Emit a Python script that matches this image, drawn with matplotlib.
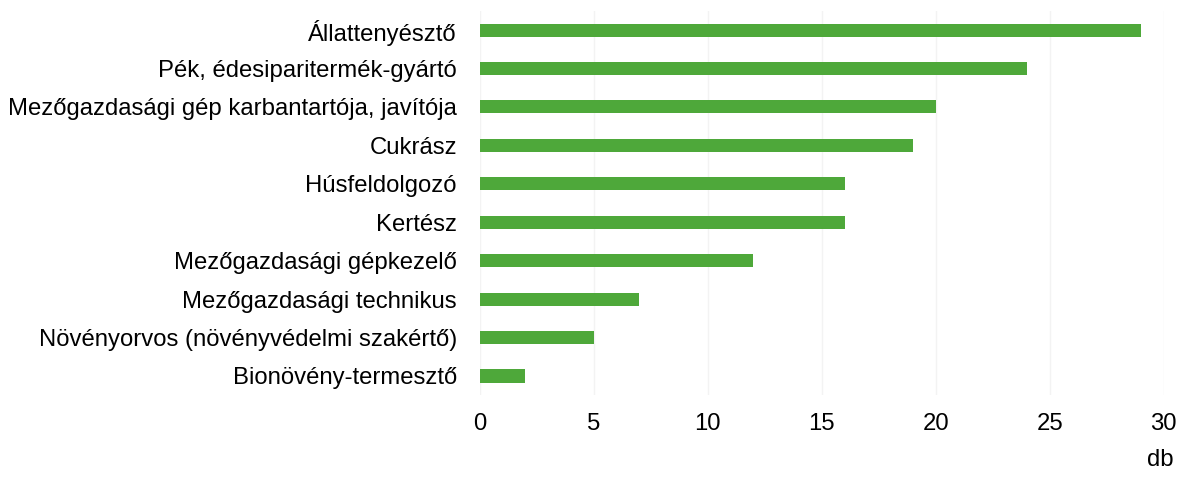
import matplotlib
matplotlib.use('Agg')
import matplotlib.pyplot as plt

plt.rcParams['font.family'] = ['Liberation Sans', 'DejaVu Sans']

# szakmák és darabszám
kategoriak = ['Állattenyésztő', 'Pék, édesiparitermék-gyártó',
              'Mezőgazdasági gép karbantartója, javítója', 'Cukrász',
              'Húsfeldolgozó', 'Kertész', 'Mezőgazdasági gépkezelő',
              'Mezőgazdasági technikus', 'Növényorvos (növényvédelmi szakértő)',
              'Bionövény-termesztő']
ertekek = [29, 24, 20, 19, 16, 16, 12, 7, 5, 2]
xticks = [0, 5, 10, 15, 20, 25, 30]

fs = 17.2

fig = plt.figure(figsize=(11.79, 4.94), dpi=100)
ax = fig.add_axes([0.407, 0.2, 0.58, 0.778])

y = list(range(len(kategoriak)))
ax.barh(y, ertekek, height=0.34, color='#4ea83a', zorder=2)
ax.set_ylim(len(kategoriak) - 0.5, -0.5)
ax.set_xlim(0, 30)
ax.set_yticks(y)
ax.set_yticklabels(kategoriak, fontsize=fs)
ax.set_xticks(xticks)
ax.set_xticklabels([str(t) for t in xticks], fontsize=fs)
ax.tick_params(length=0, pad=13, axis='x')
ax.tick_params(length=0, pad=16.5, axis='y')
for s in ax.spines.values():
    s.set_visible(False)
ax.grid(axis='x', color='#f3f3f3', linewidth=1, zorder=0)

fig.text(0.984, 0.068, 'db', fontsize=fs, ha='center', va='center')

fig.savefig('out.png', dpi=100)
